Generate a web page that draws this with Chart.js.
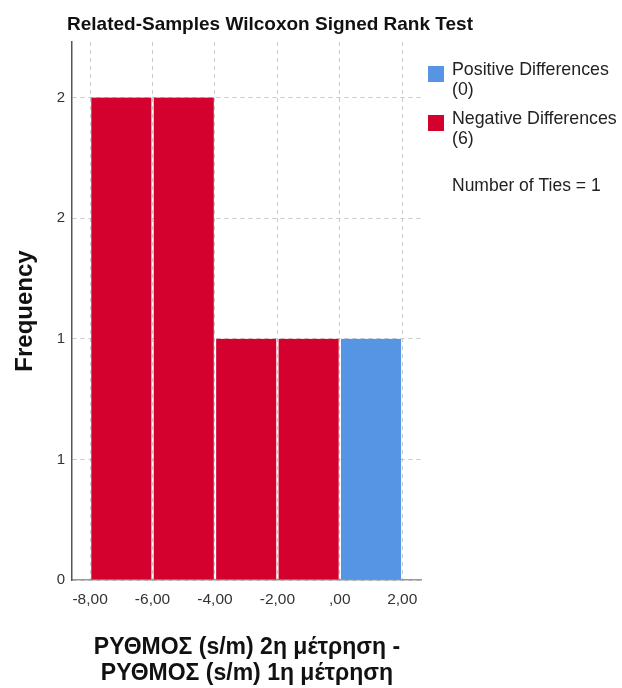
<!DOCTYPE html>
<html>
<head>
<meta charset="utf-8">
<script src="https://cdn.jsdelivr.net/npm/chart.js@4"></script>
<style>
  body { margin: 0; background: #fff; }
</style>
</head>
<body>
<canvas id="wilcoxonChart" width="622" height="688"></canvas>
<script>
// Histogram bins (centres of the 2-unit wide bins)
const binCenters = [-7, -5, -3, -1, 1];
const negativeCounts = [2, 2, 1, 1, 0];
const positiveCounts = [0, 0, 0, 0, 1];

const xTickValues = [-8, -6, -4, -2, 0, 2];
const xTickLabels = ['-8,00', '-6,00', '-4,00', '-2,00', ',00', '2,00'];
const yTickValues = [0, 0.5, 1, 1.5, 2];
const yTickLabels = ['0', '1', '1', '2', '2'];

const legendItems = [
    { text: ['Positive Differences', '(0)'], color: '#5595e3' },
    { text: ['Negative Differences', '(6)'], color: '#d4002e' }
];
const tiesText = 'Number of Ties = 1';
const titleText = 'Related-Samples Wilcoxon Signed Rank Test';
const yTitle = 'Frequency';
const xTitle = ['ΡΥΘΜΟΣ (s/m) 2η μέτρηση -', 'ΡΥΘΜΟΣ (s/m) 1η μέτρηση'];

const FONT = '"Liberation Sans", Arial, sans-serif';

// Draws the title, axis titles and the legend box on the right
const textPlugin = {
    id: 'textPlugin',
    afterDraw(chart) {
        const ctx = chart.ctx;
        ctx.save();
        ctx.fillStyle = '#111';
        ctx.textAlign = 'center';
        ctx.textBaseline = 'alphabetic';
        ctx.font = 'bold 19px ' + FONT;
        ctx.fillText(titleText, 270, 30);

        ctx.font = 'bold 23px ' + FONT;
        ctx.fillText(xTitle[0], 247, 654);
        ctx.fillText(xTitle[1], 247, 680);

        ctx.save();
        ctx.translate(32, 311);
        ctx.rotate(-Math.PI / 2);
        ctx.font = 'bold 24px ' + FONT;
        ctx.fillText(yTitle, 0, 0);
        ctx.restore();

        // legend
        ctx.textAlign = 'left';
        ctx.font = '17.8px ' + FONT;
        legendItems.forEach((item, i) => {
            const top = 66 + i * 49;
            ctx.fillStyle = item.color;
            ctx.fillRect(428, top, 16, 16);
            ctx.fillStyle = '#222';
            ctx.fillText(item.text[0], 452, top + 9);
            ctx.fillText(item.text[1], 452, top + 29);
        });
        ctx.font = '17.5px ' + FONT;
        ctx.fillText(tiesText, 452, 191);
        ctx.restore();
    }
};

const barSides = { left: 1.5, right: 1.5, top: 0, bottom: 0 };

const ctx = document.getElementById('wilcoxonChart').getContext('2d');
new Chart(ctx, {
    type: 'bar',
    data: {
        datasets: [{
            label: 'Negative Differences',
            data: binCenters.map((x, i) => ({ x: x, y: negativeCounts[i] })),
            backgroundColor: '#d4002e',
            borderColor: 'rgba(255,255,255,0)',
            borderWidth: barSides,
            borderSkipped: false,
            grouped: false,
            barPercentage: 1,
            categoryPercentage: 1
        }, {
            label: 'Positive Differences',
            data: binCenters.map((x, i) => ({ x: x, y: positiveCounts[i] })),
            backgroundColor: '#5595e3',
            borderColor: 'rgba(255,255,255,0)',
            borderWidth: barSides,
            borderSkipped: false,
            grouped: false,
            barPercentage: 1,
            categoryPercentage: 1
        }]
    },
    options: {
        responsive: false,
        animation: false,
        layout: { padding: { top: 42, right: 201, left: 0, bottom: 0 } },
        plugins: {
            legend: { display: false },
            tooltip: { enabled: false }
        },
        scales: {
            x: {
                type: 'linear',
                offset: false,
                min: -8.58,
                max: 2.6,
                afterBuildTicks: (s) => { s.ticks = xTickValues.map(v => ({ value: v })); },
                afterFit: (s) => { s.height = 108; },
                ticks: {
                    padding: 10,
                    color: '#333',
                    font: { family: FONT, size: 15.5 },
                    maxRotation: 0,
                    autoSkip: false,
                    callback: (v) => xTickLabels[xTickValues.indexOf(v)]
                },
                grid: { color: '#c8c8c8', drawTicks: false, offset: false },
                border: { color: '#999', width: 1.5, dash: [4, 4] }
            },
            y: {
                min: 0,
                max: 2.23,
                afterBuildTicks: (s) => { s.ticks = yTickValues.map(v => ({ value: v })); },
                afterFit: (s) => { s.width = 72; },
                ticks: {
                    padding: 7,
                    color: '#333',
                    font: { family: FONT, size: 15 },
                    callback: (v) => yTickLabels[yTickValues.indexOf(v)]
                },
                grid: { color: '#c8c8c8', drawTicks: false },
                border: { color: '#555', width: 1.5, dash: [4, 4] }
            }
        }
    },
    plugins: [textPlugin]
});
</script>
</body>
</html>
